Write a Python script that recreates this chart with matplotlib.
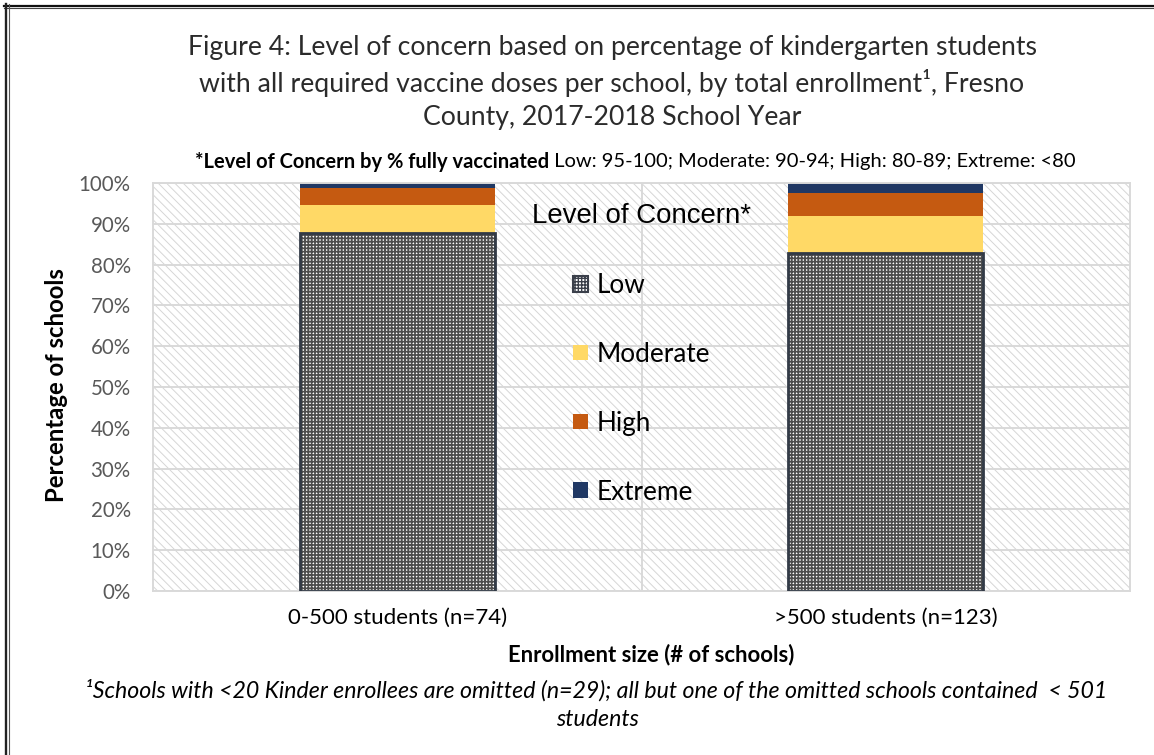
import matplotlib
matplotlib.use('Agg')
import matplotlib.pyplot as plt
from matplotlib.patches import Rectangle, Patch
from matplotlib.lines import Line2D
import numpy as np

# ---------------- data ----------------
categories = ['0-500 students (n=74)', '>500 students (n=123)']
low = [87.8, 82.9]
moderate = [6.8, 8.9]
high = [4.1, 5.7]
extreme = [1.3, 2.5]
series_names = ['Low', 'Moderate', 'High', 'Extreme']
ytick_values = [0, 10, 20, 30, 40, 50, 60, 70, 80, 90, 100]

title_lines = ['Figure 4: Level of concern based on percentage of kindergarten students',
               'with all required vaccine doses per school, by total enrollment\u00b9, Fresno',
               'County, 2017-2018 School Year']
subtitle_bold = '*Level of Concern by % fully vaccinated'
subtitle_reg = ' Low: 95-100; Moderate: 90-94; High: 80-89; Extreme: <80'
footnote_lines = ['\u00b9Schools with <20 Kinder enrollees are omitted (n=29); all but one of the omitted schools contained  < 501',
                  'students']
xlabel = 'Enrollment size (# of schools)'
ylabel = 'Percentage of schools'
legend_title = 'Level of Concern*'

# ---------------- style ----------------
CAL = 'Lato'
ARI = 'Liberation Sans'
C_MOD = '#FFD966'
C_HIGH = '#C55A11'
C_EXT = '#203864'
GRID = '#d9d9d9'

W, H = 1154, 755
fig = plt.figure(figsize=(W / 100, H / 100), dpi=100)
renderer = fig.canvas.get_renderer()


def fit(t, target, vertical=False):
    bb = t.get_window_extent(renderer)
    w = bb.height if vertical else bb.width
    t.set_fontsize(t.get_fontsize() * target / w)
    return t.get_fontsize()


def fx(px):
    return px / W


def fy(py):
    return 1 - py / H


# frame lines (top and left double rules)
fig.add_artist(Line2D([fx(4), fx(W)], [fy(5.5), fy(5.5)], color='#111111', lw=1.6, transform=fig.transFigure))
fig.add_artist(Line2D([fx(4), fx(W)], [fy(8.3), fy(8.3)], color='#444444', lw=0.8, transform=fig.transFigure))
fig.add_artist(Line2D([fx(6), fx(6)], [fy(4), fy(H)], color='#222222', lw=1.7, transform=fig.transFigure))
fig.add_artist(Line2D([fx(9), fx(9)], [fy(4), fy(H)], color='#555555', lw=0.8, transform=fig.transFigure))

# title
tcol = '#2b2b2b'
t1 = fig.text(fx(613), fy(47), title_lines[0], ha='center', va='center', family=CAL, fontweight='normal', color=tcol, fontsize=16)
ts = fit(t1, 854)
t2 = fig.text(fx(612), fy(83), title_lines[1], ha='center', va='center', family=CAL, fontweight='normal', color=tcol, fontsize=ts)
t3 = fig.text(fx(612), fy(117), title_lines[2], ha='center', va='center', family=CAL, fontweight='normal', color=tcol, fontsize=ts)

# subtitle
sb = fig.text(fx(195), fy(162), subtitle_bold, ha='left', va='center', family=CAL, fontweight='bold', color='black', fontsize=12)
sr = fig.text(fx(300), fy(162), subtitle_reg, ha='left', va='center', family=CAL, color='black', fontsize=12)
wtot = sb.get_window_extent(renderer).width + sr.get_window_extent(renderer).width
sfs = 12 * 878 / wtot
sb.set_fontsize(sfs)
sr.set_fontsize(sfs)
wb = sb.get_window_extent(renderer).width
sr.set_x(fx(195 + wb))

# axes
ax = fig.add_axes([fx(153), fy(591), fx(1130 - 153), (591 - 183) / H])
ax.set_xlim(-0.5, 1.5)
ax.set_ylim(0, 100)

bg = Rectangle((0, 0), 1, 1, transform=ax.transAxes, facecolor='white', edgecolor='#d6d6d6',
               hatch='\\\\\\\\', linewidth=0, zorder=0)
if hasattr(bg, 'set_hatch_linewidth'):
    bg.set_hatch_linewidth(0.7)
ax.add_patch(bg)

ax.set_yticks(ytick_values)
ax.set_yticklabels([f'{v}%' for v in ytick_values])
ax.yaxis.grid(True, color=GRID, linewidth=1.4)
ax.set_axisbelow(True)
ax.axvline(0.5, color=GRID, linewidth=1.4, zorder=0.6)
for s in ax.spines.values():
    s.set_color(GRID)
    s.set_linewidth(1.4)

x = np.arange(len(categories))
bw = 0.4
b_low = ax.bar(x, low, bw, color='white', edgecolor='#4d4d4d', hatch='+++++', linewidth=0, zorder=2)
for p in b_low:
    if hasattr(p, 'set_hatch_linewidth'):
        p.set_hatch_linewidth(1.25)
ax.bar(x, low, bw, fill=False, edgecolor='#323a46', linewidth=2.0, zorder=3)
bottom2 = [a + b for a, b in zip(low, moderate)]
bottom3 = [a + b for a, b in zip(bottom2, high)]
ax.bar(x, moderate, bw, bottom=low, color=C_MOD, linewidth=0, zorder=2)
ax.bar(x, high, bw, bottom=bottom2, color=C_HIGH, linewidth=0, zorder=2)
ax.bar(x, extreme, bw, bottom=bottom3, color=C_EXT, linewidth=0, zorder=2)

ax.set_xticks(x)
ax.set_xticklabels(categories)
ax.tick_params(length=0)

# tick label sizes
tmp = fig.text(0, 0, '100%', family=CAL, fontsize=12)
yfs = fit(tmp, 52)
tmp.set_text(categories[0])
tmp.set_fontsize(12)
xfs = fit(tmp, 218)
tmp.remove()
for lab in ax.get_yticklabels():
    lab.set_fontfamily(CAL)
    lab.set_fontsize(yfs)
    lab.set_color('#595959')
for lab in ax.get_xticklabels():
    lab.set_fontfamily(CAL)
    lab.set_fontsize(xfs)
    lab.set_color('black')
ax.tick_params(axis='y', pad=16)
ax.tick_params(axis='x', pad=12)

xl = ax.set_xlabel(xlabel, family=CAL, fontweight='bold', fontsize=14, va='center')
fit(xl, 287)
ax.xaxis.set_label_coords((651 - 153) / 977, (591 - 655) / 408)
yl = ax.set_ylabel(ylabel, family=CAL, fontweight='bold', fontsize=14, va='center')
fit(yl, 235, vertical=True)
ax.yaxis.set_label_coords((57 - 153) / 977, (591 - 385) / 408)

# legend
hl = Patch(facecolor='white', edgecolor='#3a3f4a', hatch='+++++', linewidth=1.5)
if hasattr(hl, 'set_hatch_linewidth'):
    hl.set_hatch_linewidth(1.25)
handles = [hl,
           Patch(facecolor=C_MOD, edgecolor='none'),
           Patch(facecolor=C_HIGH, edgecolor='none'),
           Patch(facecolor=C_EXT, edgecolor='none')]
tmp = fig.text(0, 0, legend_title, family=ARI, fontsize=18)
lt_fs = fit(tmp, 220)
tmp.set_text('Moderate')
tmp.set_fontsize(18)
tmp.set_family(CAL)
ll_fs = fit(tmp, 113)
tmp.remove()
leg = ax.legend(handles, series_names, loc='upper center', bbox_to_anchor=(0.5005, (591 - 203) / 408),
                frameon=False, prop={'family': CAL, 'size': ll_fs},
                title=legend_title, title_fontproperties={'family': ARI, 'size': lt_fs},
                labelspacing=1.68, handlelength=0.55, handleheight=0.55, handletextpad=0.35,
                borderpad=0, borderaxespad=0)
leg.set_zorder(5)

# footnote
f1 = fig.text(fx(596), fy(690), footnote_lines[0], ha='center', va='center', family=CAL, style='italic', color='black', fontsize=13)
ffs = fit(f1, 1022)
fig.text(fx(597), fy(720), footnote_lines[1], ha='center', va='center', family=CAL, style='italic', color='black', fontsize=ffs)

fig.savefig('out.png', dpi=100)
